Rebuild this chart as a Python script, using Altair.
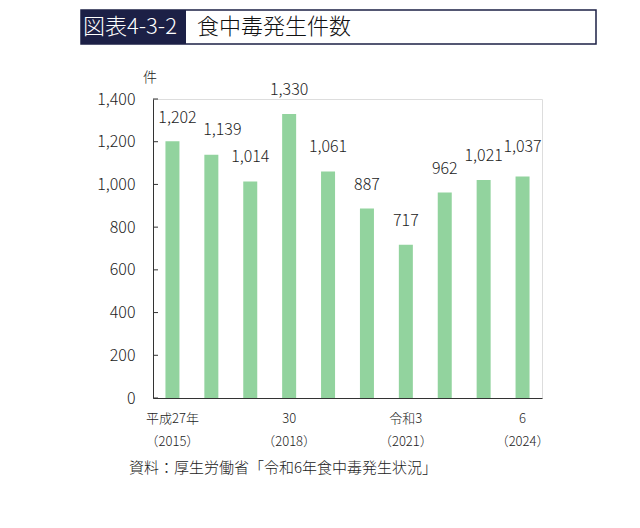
import altair as alt
import pandas as pd

# ---- data ----
years = ["2015", "2016", "2017", "2018", "2019", "2020", "2021", "2022", "2023", "2024"]
counts = [1202, 1139, 1014, 1330, 1061, 887, 717, 962, 1021, 1037]
label_years = ["2015", "2018", "2021", "2024"]
label_era = ["平成27年", "30", "令和3", "6"]
label_ad = ["（2015）", "（2018）", "（2021）", "（2024）"]
y_ticks = [0, 200, 400, 600, 800, 1000, 1200, 1400]

fig_no = "図表4-3-2"
fig_title = "食中毒発生件数"
unit = "件"
source = "資料：厚生労働省「令和6年食中毒発生状況」"

FONT = "Noto Sans CJK JP"
GREEN = "#92d39e"
NAVY = "#1c2046"
TXT = "#222222"

df = pd.DataFrame({"year": years, "count": counts})

expr = "''"
for yv, a, b in reversed(list(zip(label_years, label_era, label_ad))):
    expr = f"datum.value == '{yv}' ? ['{a}', '{b}'] : ({expr})"

W, H = 389, 299

x_enc = alt.X(
    "year:N",
    sort=years,
    scale=alt.Scale(paddingInner=0.64, paddingOuter=0.32),
    axis=alt.Axis(
        title=None,
        labelExpr=expr,
        labelAngle=0,
        labelFont=FONT,
        labelFontSize=13,
        labelFontWeight=300,
        labelColor=TXT,
        labelLineHeight=23,
        labelPadding=14,
        ticks=False,
        domainColor="#333333",
        domainWidth=1,
        grid=False,
    ),
)
y_scale = alt.Scale(domain=[0, 1400], nice=False, zero=True)
y_enc = alt.Y(
    "count:Q",
    scale=y_scale,
    axis=alt.Axis(
        title=None,
        values=y_ticks,
        format=",.0f",
        labelFont=FONT,
        labelFontSize=16,
        labelFontWeight=300,
        labelColor=TXT,
        labelPadding=18,
        ticks=False,
        domainColor="#333333",
        domainWidth=1,
        grid=False,
    ),
)

base = alt.Chart(df)
bars = base.mark_bar(color=GREEN).encode(x=x_enc, y=y_enc)


def value_labels(years_sel, dx=0, dy=-24):
    return (
        base.transform_filter(alt.FieldOneOfPredicate(field="year", oneOf=years_sel))
        .mark_text(font=FONT, fontSize=16, fontWeight=300, color=TXT, baseline="middle", dx=dx, dy=dy)
        .encode(x=alt.X("year:N", sort=years), y=alt.Y("count:Q"), text=alt.Text("count:Q", format=",.0f"))
    )


labels_main = value_labels(["2017", "2018", "2019", "2020", "2021", "2022", "2023"])
labels_a = value_labels(["2015"], dx=5, dy=-23)
labels_b = value_labels(["2016"], dx=11, dy=-25)
labels_c = value_labels(["2024"], dy=-30)

ticks = alt.Chart(pd.DataFrame({"v": y_ticks})).mark_rule(color="#333333", strokeWidth=1).encode(
    y=alt.Y("v:Q", scale=y_scale), x=alt.value(0), x2=alt.value(5)
)

one = pd.DataFrame({"t": [fig_no]})
box = alt.Chart(one).mark_rect(fill="white", stroke=NAVY, strokeWidth=1.5).encode(
    x=alt.value(-72), x2=alt.value(443), y=alt.value(-89), y2=alt.value(-55)
)
badge = alt.Chart(one).mark_rect(fill=NAVY).encode(
    x=alt.value(-72), x2=alt.value(33), y=alt.value(-89), y2=alt.value(-55)
)
badge_text = alt.Chart(one).mark_text(
    font=FONT, fontSize=22, fontWeight=300, color="white", align="left", baseline="middle"
).encode(x=alt.value(-70), y=alt.value(-72), text="t:N")
title_text = alt.Chart(pd.DataFrame({"t": [fig_title]})).mark_text(
    font=FONT, fontSize=22, fontWeight=300, color="#111111", align="left", baseline="middle"
).encode(x=alt.value(44), y=alt.value(-72), text="t:N")
unit_text = alt.Chart(pd.DataFrame({"t": [unit]})).mark_text(
    font=FONT, fontSize=14, fontWeight=300, color=TXT, align="center", baseline="middle"
).encode(x=alt.value(-3), y=alt.value(-21), text="t:N")
source_text = alt.Chart(pd.DataFrame({"t": [source]})).mark_text(
    font=FONT, fontSize=15, fontWeight=300, color=TXT, align="left", baseline="middle"
).encode(x=alt.value(-24), y=alt.value(369), text="t:N")

chart = (
    alt.layer(
        bars, labels_main, labels_a, labels_b, labels_c, ticks,
        box, badge, badge_text, title_text, unit_text, source_text,
    )
    .properties(
        width=W,
        height=H,
        autosize=alt.AutoSizeParams(type="none"),
        padding={"left": 145, "top": 91, "right": 60, "bottom": 110},
    )
    .configure_view(stroke=None)
    .configure(font=FONT, background="white")
)

chart.save("out.html", embed_options={"renderer": "svg", "actions": False})
